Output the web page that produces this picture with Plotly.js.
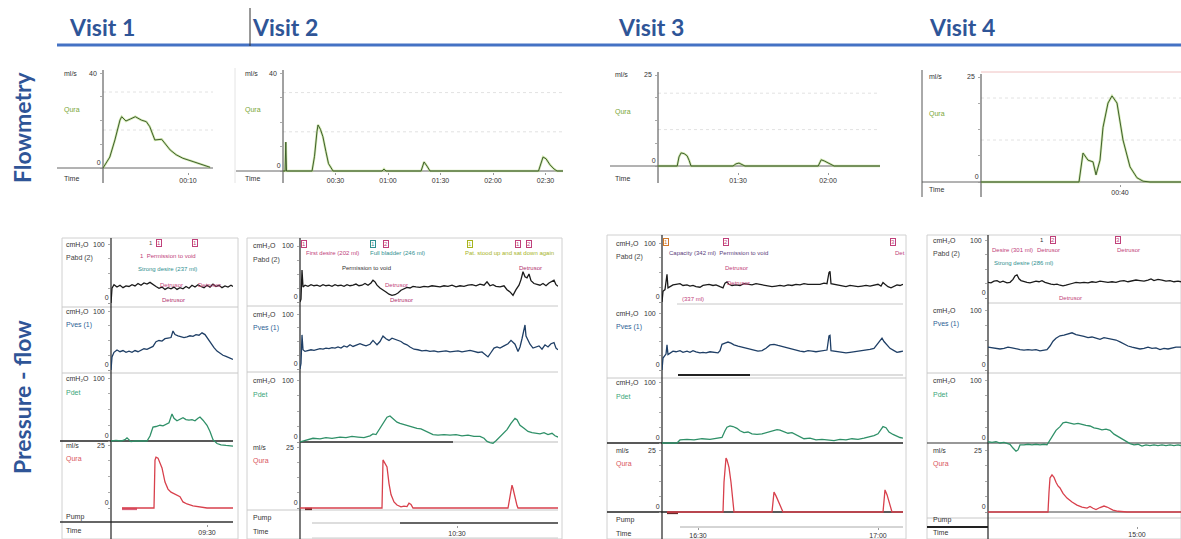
<!DOCTYPE html>
<html><head><meta charset="utf-8">
<script src="https://cdn.plot.ly/plotly-3.0.1.min.js"></script>
<style>html,body{margin:0;padding:0;background:#fff}#chart{width:1181px;height:539px}</style>
</head><body><div id="chart"></div>
<script>
// ================= DATA =================
const visits = ["Visit 1", "Visit 2", "Visit 3", "Visit 4"];
const sectionLabels = ["Flowmetry", "Pressure - flow"];

// Flowmetry: [time s, flow ml/s]
const flow1 = [[0,0],[0.8,4.6],[1.4,11.8],[2,20.2],[2.2,21.6],[2.7,19.8],[3.2,20.6],[3.8,21.6],[4.5,20.2],[5.1,19.5],[5.5,17.4],[6.1,11.8],[6.9,12.1],[7.9,7.6],[8.6,5.6],[9.4,4.1],[10.6,2.7],[11.5,1.5],[12.6,0.3]];
const flow2 = [[0,0],[1.2,0],[1.6,11.8],[2.0,0],[16.6,0],[18,6],[19.4,16],[20,18.8],[21.4,17],[22.8,14],[24.5,8],[26,3],[28.6,0],[56.6,0],[57.7,0.8],[58.8,0],[78.9,0],[80.6,3.7],[82.3,2],[84,0],[146,0],[147.4,3.5],[148.6,5.7],[150.3,5],[152.6,2.5],[154.9,0.8],[156.6,0],[160,0]];
const flow3 = [[63.3,0],[69.7,0],[70.3,2.5],[71,3.6],[72,3.4],[73,2.8],[73.7,1.5],[74.3,0],[88.3,0],[89.3,0.6],[90.3,0.8],[91.3,0.4],[92.3,0],[116.7,0],[117.7,1.7],[118.7,1.4],[120,0.8],[121,0.3],[122,0],[137.3,0]];
const flow4 = [[5.25,0],[29.75,0],[30.75,6.9],[32,5.2],[33.25,4.8],[34,1.7],[35,5.2],[35.75,13],[37,18.8],[38,20.5],[39.25,18.8],[40.75,10],[42.5,3.6],[44.25,1],[45.75,0.2],[47.5,0],[55.25,0]];
const flowMax = [40, 40, 25, 25];
const flowTickVals = [[10],[30,60,90,120,150],[90,120],[40]];
const flowTickText = [["00:10"],["00:30","01:00","01:30","02:00","02:30"],["01:30","02:00"],["00:40"]];

// Pressure-flow: [time s, value]
const v1Pabd = [[0,0],[1,25],[3,31],[6,27],[9,30],[12,26],[15,29],[18,28],[21,31],[24,29],[27,33],[30,30],[33,34],[36,32],[39,35],[42,31],[45,28],[48,25],[51,27],[54,23],[57,26],[60,24],[63,27],[66,23],[69,26],[72,24],[75,28],[78,25],[81,30],[84,27],[87,31],[90,28],[93,26],[96,30],[99,27],[102,32],[105,28],[108,30],[111,26],[114,29],[117,27],[120,30],[122,28]];
const v1Pves = [[0,0],[1,22],[3,30],[6,34],[9,31],[12,33],[15,30],[18,32],[21,30],[24,33],[27,31],[30,34],[33,36],[36,35],[39,37],[42,40],[45,48],[48,50],[51,49],[54,53],[57,54],[60,55],[62,66],[64,60],[67,58],[70,57],[73,55],[76,56],[79,58],[82,57],[85,60],[88,59],[91,63],[94,60],[97,52],[100,44],[103,38],[106,32],[109,28],[112,25],[115,23],[118,21],[122,18]];
const v1Pdet = [[0,0],[5,1],[10,0],[14,2],[16,5],[18,2],[20,-1],[24,0],[28,0],[33,1],[36,0],[39,8],[42,22],[45,23],[49,25],[52,24],[55,27],[58,29],[61,43],[63,36],[66,32],[69,35],[72,37],[75,34],[78,33],[81,34],[84,32],[87,36],[89,38],[92,33],[96,25],[99,15],[102,2],[106,-4],[110,-6],[115,-7],[122,-8]];
const v1Qura = [[11,0],[43,0],[44,19],[45,20.2],[47,19.8],[49,18],[51,15.9],[54,10.3],[57,7.5],[60,6.3],[63,5.8],[66,5.2],[69,4.5],[72,2.4],[76,1.6],[82,0.8],[90,0.2],[96,0],[122,0]];

const v2Pabd = [[0,0],[1,5],[2,57],[3,27],[5,30],[8,28],[11,31],[14,29],[17,30],[20,28],[23,31],[26,29],[29,30],[32,28],[35,31],[38,29],[41,30],[44,28],[47,31],[50,29],[53,30],[56,32],[59,29],[62,30],[65,33],[68,30],[71,34],[73,39],[75,36],[77,30],[80,25],[83,22],[86,18],[89,14],[92,12],[95,13],[98,16],[101,21],[104,24],[107,26],[110,25],[113,28],[116,27],[120,26],[124,28],[128,27],[132,29],[136,28],[140,27],[144,29],[148,28],[152,30],[156,27],[160,29],[164,28],[168,30],[172,31],[176,29],[180,32],[184,30],[187,36],[190,29],[193,31],[196,28],[200,27],[204,29],[207,22],[210,18],[213,12],[216,22],[219,30],[221,40],[223,54],[225,45],[227,43],[229,50],[231,38],[234,33],[237,31],[240,30],[243,33],[246,29],[249,34],[252,37],[254,39],[256,31],[258,28]];
const v2Pves = [[0,0],[1,10],[2,62],[3,35],[5,32],[8,33],[11,35],[14,34],[17,36],[20,37],[23,36],[26,38],[29,37],[32,39],[35,38],[38,40],[41,38],[44,42],[47,40],[50,44],[53,41],[56,43],[60,46],[63,44],[66,42],[70,45],[73,52],[75,48],[77,44],[80,50],[83,60],[86,55],[89,52],[92,56],[95,54],[98,53],[101,50],[104,46],[107,44],[110,40],[114,36],[118,35],[122,33],[126,34],[130,32],[134,33],[138,31],[142,32],[146,33],[150,31],[154,32],[158,33],[162,31],[166,32],[170,34],[174,32],[178,30],[182,31],[185,26],[188,22],[191,30],[194,38],[197,40],[200,38],[204,42],[208,46],[211,52],[213,49],[215,45],[218,32],[220,40],[222,55],[224,72],[225,80],[226,60],[228,52],[230,45],[233,38],[236,40],[239,42],[242,36],[245,44],[248,40],[251,46],[254,48],[256,38],[258,35]];
const v2Pdet = [[0,0],[2,1],[6,2],[13,6],[20,5],[26,7],[32,6],[40,8],[46,7],[52,9],[58,8],[64,7],[70,10],[73,13],[76,12],[80,22],[84,32],[87,40],[90,42],[93,38],[97,32],[100,30],[104,28],[107,27],[110,26],[113,24],[117,22],[121,21],[125,18],[129,15],[133,12],[138,11],[144,12],[150,11],[156,12],[162,10],[168,11],[174,9],[180,9],[184,6],[187,1],[190,-1],[193,-2],[196,2],[200,8],[204,14],[207,20],[211,30],[215,38],[217,36],[220,27],[224,22],[228,17],[232,15],[236,14],[240,13],[244,15],[248,12],[252,14],[255,10],[258,8]];
const v2Qura = [[0,0],[82,0],[83,19.7],[85,18.5],[87,16.8],[89,10],[91,5.5],[94,2.5],[97,1.2],[101,0.5],[104,0.8],[107,0.6],[109,2],[111,1.5],[113,0],[208,0],[210,5],[212,9.4],[213,8],[215,4.1],[217,1],[218,0],[258,0]];

const v3Pabd = [[0,0],[1,18],[3,21],[5,47],[6,24],[8,26],[11,29],[14,30],[18,31],[21,28],[25,29],[28,27],[31,28],[34,26],[38,25],[41,28],[44,29],[47,30],[51,28],[54,29],[58,26],[61,24],[63,32],[65,34],[67,30],[70,28],[74,29],[78,28],[82,31],[86,30],[90,29],[94,31],[98,30],[102,28],[106,27],[110,26],[114,27],[118,28],[122,27],[126,29],[130,28],[134,30],[138,29],[142,31],[146,30],[150,30],[154,31],[158,30],[162,32],[165,31],[167,50],[168,52],[169,31],[172,30],[176,29],[180,27],[184,26],[188,28],[192,27],[196,26],[200,27],[204,28],[208,27],[212,28],[216,30],[219,27],[221,33],[223,30],[226,26],[229,24],[232,27],[235,29],[238,28],[241,30]];
const v3Pves = [[0,0],[1,21],[4,28],[5,44],[6,27],[8,30],[11,33],[14,32],[18,34],[21,31],[25,33],[28,31],[31,34],[34,32],[38,30],[41,31],[44,30],[48,32],[52,31],[56,30],[58,34],[60,45],[63,47],[66,49],[69,47],[72,44],[76,42],[80,40],[84,38],[88,36],[92,35],[96,33],[100,34],[104,38],[108,44],[112,45],[116,43],[120,41],[124,39],[127,38],[130,36],[134,34],[138,33],[142,32],[146,34],[150,33],[154,32],[158,33],[162,34],[165,35],[167,60],[168,61],[169,34],[172,33],[176,32],[180,31],[184,30],[188,31],[192,32],[196,33],[200,33],[204,34],[208,36],[212,38],[215,45],[218,52],[220,56],[222,50],[225,44],[228,38],[232,34],[235,31],[238,32],[241,33]];
const v3Pdet = [[0,0],[15,0],[18,5],[25,6],[32,5],[40,7],[48,6],[56,8],[60,9],[63,20],[65,26],[68,28],[71,27],[75,24],[78,20],[82,17],[86,18],[90,15],[95,14],[100,15],[105,17],[110,20],[115,22],[118,21],[122,18],[126,16],[130,17],[134,14],[138,10],[142,7],[148,8],[154,5],[160,6],[166,5],[172,4],[178,6],[184,5],[190,7],[196,6],[202,8],[208,10],[212,12],[216,15],[219,22],[221,27],[224,25],[227,18],[231,14],[235,11],[238,9],[241,8]];
const v3Qura = [[5,0],[61,0],[62,12],[64,21.8],[65,21],[67,18],[69,12],[71,4],[72,0],[110,0],[111,4],[112,8],[114,6.5],[116,4.5],[118,2.5],[120,0.8],[121,0],[221,0],[222,4],[223,8.9],[225,7],[227,4.5],[229,2],[230,0],[241,0]];

const v4Pabd = [[0,27],[3,26],[6,29],[9,30],[12,27],[15,29],[19,26],[22,27],[25,32],[27,38],[29,40],[31,33],[33,30],[36,28],[39,27],[42,26],[45,27],[48,29],[51,28],[54,30],[57,27],[60,25],[63,24],[66,23],[69,24],[72,22],[75,21],[78,22],[81,24],[84,25],[88,27],[92,26],[96,27],[100,26],[104,28],[108,27],[112,29],[116,28],[120,27],[124,28],[128,27],[132,29],[136,30],[140,28],[144,29],[148,31],[152,30],[156,29],[160,31],[163,33],[166,30],[170,32],[174,31],[178,29],[182,30],[186,28],[190,29],[193,28]];
const v4Pves = [[0,38],[4,37],[8,36],[12,35],[16,36],[20,38],[24,37],[28,35],[32,34],[36,33],[40,34],[44,33],[48,34],[52,32],[56,33],[59,34],[62,40],[65,48],[68,53],[72,57],[76,58],[80,60],[84,62],[88,59],[92,58],[96,56],[100,54],[104,55],[108,53],[112,51],[116,54],[120,53],[124,51],[128,50],[132,47],[136,43],[140,40],[144,38],[148,37],[152,35],[156,36],[160,38],[164,36],[168,37],[172,34],[176,36],[180,35],[184,37],[188,38],[193,38]];
const v4Pdet = [[0,2],[4,1],[8,2],[12,0],[16,1],[19,0],[22,-2],[25,-8],[28,-13],[30,-11],[32,-3],[36,-3],[40,-2],[44,-3],[48,-2],[52,-3],[56,-2],[59,-3],[62,5],[65,13],[68,20],[72,26],[75,32],[78,33],[82,32],[86,30],[90,31],[94,29],[98,28],[102,27],[106,24],[110,23],[114,21],[118,22],[122,20],[126,14],[130,10],[134,6],[138,2],[142,-1],[146,-3],[150,-2],[154,-5],[158,-3],[162,-4],[166,-3],[170,-4],[174,-3],[178,-4],[182,-3],[186,-4],[190,-3],[193,-4]];
const v4Qura = [[0,0],[60,0],[61,8],[62,13.7],[64,15],[66,14],[68,12],[70,10.5],[72,9.7],[75,7.5],[79,5.6],[84,4],[89,2.8],[94,2],[99,1.6],[102,2.2],[105,1.5],[108,1],[112,1.8],[116,2.4],[119,2],[122,1.3],[125,0.8],[130,0.3],[139,0],[193,0]];

const pfSeries = [[v1Pabd,v1Pves,v1Pdet,v1Qura],[v2Pabd,v2Pves,v2Pdet,v2Qura],[v3Pabd,v3Pves,v3Pdet,v3Qura],[v4Pabd,v4Pves,v4Pdet,v4Qura]];
const pfChannels = ["Pabd (2)", "Pves (1)", "Pdet", "Qura"];
const pfUnits = ["cmH\u2082O", "cmH\u2082O", "cmH\u2082O", "ml/s"];
const pfMax = [100, 100, 100, 25];
const pfStub = [[11,26],[5,12],[5,16],null];
const pfTickVals = [[96],[157],[36,216],[149]];
const pfTickText = [["09:30"],["10:30"],["16:30","17:00"],["15:00"]];

// ================= LAYOUT GEOMETRY (pixels) =================
const W = 1181, H = 539;
const PX = x => x / W, PY = y => 1 - y / H;

const flGeom = [
  {x0:103, x1:213.5, range:[0,13], top:73, zero:168, lineL:57, lineR:213, labelX:62, timeY:178, axBottom:183},
  {x0:283, x1:563, range:[0,160], top:73, zero:171, lineL:236, lineR:563, labelX:243, timeY:178, axBottom:183},
  {x0:658, x1:880, range:[63.3,137.3], top:75, zero:166, lineL:610, lineR:880, labelX:613, timeY:178, axBottom:183},
  {x0:981, x1:1181, range:[5.25,55.25], top:77, zero:182, lineL:922, lineR:1181, labelX:927, timeY:190, axBottom:197}
];
const pfGeom = [
  {x0:111, x1:233, frameL:62, frameR:238, top:238, tops:[244,311,378,445], zeros:[303,370,441,508], labelX:64, pumpLY:517, timeY:530},
  {x0:300, x1:558, frameL:247, frameR:562, top:238, tops:[246,314,380,447], zeros:[302,369,442,508], labelX:251, pumpLY:518, timeY:531},
  {x0:662, x1:903, frameL:607, frameR:906, top:235, tops:[243,313,382,450], zeros:[302,370,443,512], labelX:614, pumpLY:520, timeY:533},
  {x0:988, x1:1181, frameL:927, frameR:1181, top:235, tops:[240,310,380,450], zeros:[298,370,443,512], labelX:931, pumpLY:520, timeY:532}
];
// horizontal rule lines per pressure-flow panel: [y, xL, xR, color, width]
const pfRules = [
  [[307,62,238,'#c8c8c8',1],[373,62,238,'#c8c8c8',1],[441,60,233,'#222',1.6],[522,60,233,'#333',1.6]],
  [[306,247,558,'#c8c8c8',1],[372,247,558,'#c8c8c8',1],[442,300,453,'#222',1.6],[442,453,558,'#bbb',1],[510,247,558,'#c8c8c8',1],[523,312,400,'#bbb',1],[523,400,558,'#333',1.4],[538,312,558,'#ccc',1]],
  [[304,677,903,'#c8c8c8',1],[375,678,750,'#222',1.8],[375,750,903,'#bbb',1],[378,607,906,'#c8c8c8',1],[443,607,903,'#222',1.5],[512,607,903,'#222',1.5],[527,680,903,'#aaa',1]],
  [[303,988,1181,'#c8c8c8',1],[373,927,1181,'#c8c8c8',1],[443,927,1181,'#333',1.2],[512,988,1181,'#444',1],[518,927,1181,'#c8c8c8',1],[527,927,988,'#222',2]]
];
const chColors = ['#1b1b1b', '#1f3f66', '#2f9068', '#d8404c'];
const chLabelColors = ['#444', '#2d5f96', '#3aa57a', '#d9555e'];

// event annotations (pixels): [text, x, y, colour, boxed]
const PINK = '#c0407a', TEAL = '#2f9090', YG = '#a6b41e';
const events = [
  ['1',147,243,'#555',false],['1',156,243,PINK,true],['1',192,243,PINK,true],
  ['1  Permission to void',138,256,PINK,false],['Strong desire (237 ml)',136,269,TEAL,false],
  ['Detrusor',158,285,PINK,false],['Detrusor',196,285,PINK,false],['Detrusor',160,300,'#b03070',false],
  ['1',301,244,PINK,true],['First desire (202 ml)',304,253,PINK,false],
  ['1',370,244,TEAL,true],['2',383,244,PINK,true],['Full bladder (246 ml)',368,253,TEAL,false],
  ['Permission to void',340,268,'#333',false],['Detrusor',383,285,PINK,false],['Detrusor',388,300,'#b03070',false],
  ['1',467,244,YG,true],['Pat. stood up and sat down again',463,253,YG,false],
  ['1',515,244,PINK,true],['2',526,244,PINK,true],['Detrusor',517,268,'#b03070',false],
  ['1',663,242,'#d0782a',true],['2',723,242,PINK,true],['3',890,242,PINK,true],
  ['Capacity (342 ml)  Permission to void',667,253,'#5a3d7a',false],
  ['Detrusor',723,268,PINK,false],['Detrusor',725,283,PINK,false],['Det',893,253,PINK,false],['(337 ml)',680,299,PINK,false],
  ['1',1038,240,'#333',false],['2',1050,240,PINK,true],['3',1115,240,PINK,true],
  ['Desire (301 ml)',990,250,PINK,false],['Detrusor',1035,250,PINK,false],['Detrusor',1115,250,PINK,false],
  ['Strong desire (286 ml)',992,263,TEAL,false],['Detrusor',1057,298,PINK,false]
];

// ================= BUILD =================
const traces = [];
const shapes = [];
const annotations = [];
const layout = {
  width: W, height: H, margin: {l:0, r:0, t:0, b:0},
  paper_bgcolor: '#ffffff', plot_bgcolor: 'rgba(0,0,0,0)', showlegend: false,
  font: {family: 'Liberation Sans, Arial, sans-serif', size: 7, color: '#333'},
  hovermode: false
};
function txt(text, x, y, color, size, opts) {
  annotations.push(Object.assign({text, x:PX(x), y:PY(y), xref:'paper', yref:'paper', showarrow:false,
    xanchor:'left', yanchor:'middle', font:{size, color, family:'Liberation Sans, Arial, sans-serif'}}, opts || {}));
}
let n = 0;
function addSub(x0, x1, xRange, topPx, zeroPx, yMax, yMin) {
  n++;
  const s = n === 1 ? '' : String(n);
  const ppu = (zeroPx - topPx) / yMax;
  const botPx = zeroPx - yMin * ppu;
  layout['xaxis' + s] = {domain: [PX(x0), PX(x1)], range: xRange, anchor: 'y' + s, visible: false, fixedrange: true};
  layout['yaxis' + s] = {domain: [PY(botPx), PY(topPx)], range: [yMin, yMax], anchor: 'x' + s,
    showgrid: false, zeroline: false, showline: false, fixedrange: true,
    tickmode: 'array', tickvals: [0], ticktext: ['0'], ticks: 'outside', ticklen: 2, tickcolor: '#999',
    ticklabelposition: 'outside top',
    minor: {tickmode: 'linear', tick0: 0, dtick: yMax / 4, ticks: 'outside', ticklen: 2, tickcolor: '#aaa', showgrid: false},
    tickfont: {size: 7, color: '#333'}};
  // full-scale label at the top of the axis
  txt(String(yMax), x0 - 4, topPx, '#333', 7, {xanchor:'right'});
  return {x: 'x' + s, y: 'y' + s, xa: 'xaxis' + s, ya: 'yaxis' + s};
}
function hline(y, xl, xr, color, width, dash) {
  shapes.push({type:'line', xref:'paper', yref:'paper', x0:PX(xl), x1:PX(xr), y0:PY(y), y1:PY(y), line:{color, width, dash: dash || 'solid'}, layer:'below'});
}
function vline(x, yt, yb, color, width) {
  shapes.push({type:'line', xref:'paper', yref:'paper', x0:PX(x), x1:PX(x), y0:PY(yt), y1:PY(yb), line:{color, width}, layer:'below'});
}
const bigFont = {size:23, color:'#2f5597', family:'Lato, Open Sans, sans-serif'};

// header
const headerX = [67, 250, 616, 927];
visits.forEach((v, i) => txt('<b>' + v + '</b>', headerX[i], 27, '#2f5597', 23, {font:bigFont}));
hline(45, 57, 1181, '#4472c4', 3);
vline(250, 8, 46, '#333', 1);
txt('<b>' + sectionLabels[0] + '</b>', 22, 127, '#2f5597', 23, {xanchor:'center', textangle:-90, font:bigFont});
txt('<b>' + sectionLabels[1] + '</b>', 22, 397, '#2f5597', 23, {xanchor:'center', textangle:-90, font:bigFont});

// flowmetry panels
const flows = [flow1, flow2, flow3, flow4];
flows.forEach((f, i) => {
  const g = flGeom[i], m = flowMax[i];
  const ax = addSub(g.x0, g.x1, g.range, g.top, g.zero, m, -0.6);
  Object.assign(layout[ax.xa], {visible:true, anchor:'free', position:PY(g.timeY - 6), showline:false, showgrid:false, zeroline:false,
    tickmode:'array', tickvals:flowTickVals[i], ticktext:flowTickText[i], ticks:'outside', ticklen:2, tickcolor:'#999',
    tickfont:{size:7, color:'#333'}});
  const xs = f.map(d => d[0]), ys = f.map(d => d[1]);
  traces.push({type:'scatter', mode:'lines', x:xs, y:ys, xaxis:ax.x, yaxis:ax.y, line:{color:'rgba(170,212,110,0.55)', width:2.4}, hoverinfo:'skip'});
  traces.push({type:'scatter', mode:'lines', x:xs, y:ys, xaxis:ax.x, yaxis:ax.y, line:{color:'#3f5f2c', width:1}, hoverinfo:'skip'});
  [m * 0.4, m * 0.8].forEach(v => shapes.push({type:'line', xref:'paper', yref:ax.y, x0:PX(g.x0), x1:PX(g.lineR), y0:v, y1:v, line:{color:'#e2e2e2', width:1, dash:'dot'}, layer:'below'}));
  hline(g.zero, g.lineL, g.lineR, '#666', 1);
  vline(g.x0, g.top - 3, g.axBottom, '#444', 1);
  txt('ml/s', g.labelX, g.top, '#333', 7);
  txt('Qura', g.labelX, g.top + 37, '#7aa63a', 7);
  txt('Time', g.labelX, g.timeY, '#333', 7);
});
vline(235, 68, 183, '#e4e4e4', 1);
vline(922, 70, 197, '#555', 1);
hline(72, 981, 1181, '#efc0c0', 1);

// pressure-flow panels
pfSeries.forEach((series, i) => {
  const g = pfGeom[i];
  shapes.push({type:'rect', xref:'paper', yref:'paper', x0:PX(g.frameL), x1:PX(g.frameR), y0:PY(539), y1:PY(g.top), line:{color:'#d0d0d0', width:1}, layer:'below'});
  pfRules[i].forEach(r => hline(r[0], r[1], r[2], r[3], r[4]));
  vline(g.x0, g.top, 539, '#222', 1.2);
  const xr = [0, g.x1 - g.x0];
  series.forEach((s, c) => {
    const m = pfMax[c];
    const yMin = c === 2 ? -16 : (c === 3 ? -1 : -2);
    const ax = addSub(g.x0, g.x1, xr, g.tops[c], g.zeros[c], m, yMin);
    if (c === 3) {
      Object.assign(layout[ax.xa], {visible:true, anchor:'free', position:PY(g.timeY - 6), showline:false, showgrid:false, zeroline:false,
        tickmode:'array', tickvals:pfTickVals[i], ticktext:pfTickText[i], ticks:'outside', ticklen:2, tickcolor:'#999',
        tickfont:{size:7, color:'#333'}});
      if (pfStub[i]) traces.push({type:'scatter', mode:'lines', x:pfStub[i], y:[-0.4, -0.4], xaxis:ax.x, yaxis:ax.y,
        line:{color: i === 0 ? '#d8607a' : '#6a2a2a', width:2.6}, hoverinfo:'skip'});
    }
    traces.push({type:'scatter', mode:'lines', x:s.map(d => d[0]), y:s.map(d => d[1]), xaxis:ax.x, yaxis:ax.y,
      line:{color:chColors[c], width:1.3}, hoverinfo:'skip'});
    txt(pfUnits[c], g.labelX, g.tops[c], '#333', 7);
    txt(pfChannels[c], g.labelX, g.tops[c] + 14, chLabelColors[c], 7);
  });
  txt('Pump', g.labelX, g.pumpLY, '#333', 7);
  txt('Time', g.labelX, g.timeY, '#333', 7);
});

// events
events.forEach(e => {
  const opts = e[4] ? {bordercolor:e[3], borderwidth:1, borderpad:0} : {};
  txt(e[0], e[1], e[2], e[3], 6, opts);
});

layout.shapes = shapes;
layout.annotations = annotations;
Plotly.newPlot('chart', traces, layout, {displayModeBar:false, staticPlot:true});
</script></body></html>
